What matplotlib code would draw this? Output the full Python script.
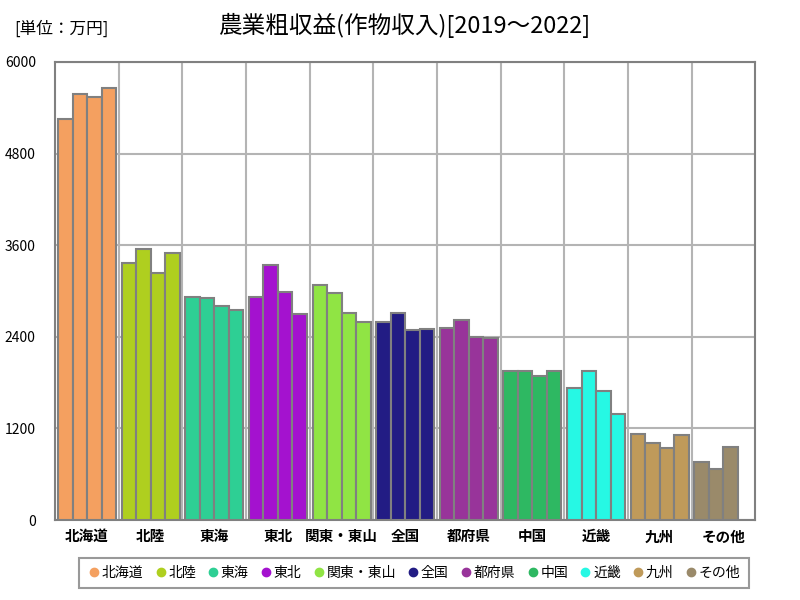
import matplotlib
matplotlib.use("Agg")
import matplotlib.pyplot as plt
from matplotlib.lines import Line2D
import numpy as np

plt.rcParams['font.family'] = ['Noto Sans CJK JP', 'DejaVu Sans']

regions = ['北海道', '北陸', '東海', '東北', '関東・東山', '全国', '都府県', '中国', '近畿', '九州', 'その他']
years = ['2019', '2020', '2021', '2022']
values = {
    '北海道':   [5250, 5585, 5540, 5660],
    '北陸':     [3370, 3550, 3240, 3500],
    '東海':     [2925, 2905, 2805, 2745],
    '東北':     [2915, 3340, 2990, 2700],
    '関東・東山': [3080, 2980, 2715, 2600],
    '全国':     [2595, 2715, 2490, 2505],
    '都府県':   [2520, 2620, 2395, 2380],
    '中国':     [1955, 1955, 1890, 1955],
    '近畿':     [1735, 1955, 1695, 1395],
    '九州':     [1130, 1015, 940, 1110],
    'その他':   [755, 670, 960, np.nan],
}
colors = ['#F4A060', '#AFCF1F', '#2ECF94', '#A412CF', '#90E444', '#221C84',
          '#98349A', '#2EB862', '#26F8E4', '#BF9A5A', '#9A8A6A']
yticks = [0, 1200, 2400, 3600, 4800, 6000]

fig = plt.figure(figsize=(8, 6), dpi=100)
ax = fig.add_axes([0.069, 0.1333, 0.875, 0.7634])

bw = 0.228
for i, r in enumerate(regions):
    for j, v in enumerate(values[r]):
        if np.isnan(v):
            continue
        x = i - 1.5 * bw + j * bw
        ax.bar(x, v, width=bw, color=colors[i], edgecolor='#808080', linewidth=1.5, zorder=3)

ax.set_xlim(-0.5, len(regions) - 0.5)
ax.set_ylim(0, 6000)
ax.set_yticks(yticks)
ax.set_yticklabels([str(t) for t in yticks], fontsize=10)
ax.set_xticks(np.arange(len(regions)))
ax.set_xticklabels(regions, fontsize=10.5, fontweight='bold')
ax.set_xticks(np.arange(len(regions) - 1) + 0.5, minor=True)
ax.grid(True, which='minor', axis='x', color='#b4b4b4', linewidth=1.5, zorder=0)
ax.grid(True, which='major', axis='y', color='#b4b4b4', linewidth=1.5, zorder=0)
ax.tick_params(axis='both', which='both', length=0, pad=6)
ax.tick_params(axis='y', pad=14)
for s in ax.spines.values():
    s.set_color('#808080')
    s.set_linewidth(1.5)

fig.text(0.505, 0.957, '農業粗収益(作物収入)[2019～2022]', ha='center', va='center', fontsize=17)
fig.text(0.018, 0.952, '[単位：万円]', ha='left', va='center', fontsize=12)

handles = [Line2D([0], [0], marker='o', linestyle='', markersize=6,
                  markerfacecolor=c, markeredgecolor=c) for c in colors]
leg = fig.legend(handles, regions, loc='center', bbox_to_anchor=(0.517, 0.045), ncol=11,
                 frameon=True, fancybox=False, fontsize=10, handletextpad=0.05,
                 columnspacing=0.75, handlelength=1.0, borderpad=0.6)
leg.get_frame().set_edgecolor('#808080')
leg.get_frame().set_linewidth(1.5)

fig.savefig('out.png', dpi=100)
